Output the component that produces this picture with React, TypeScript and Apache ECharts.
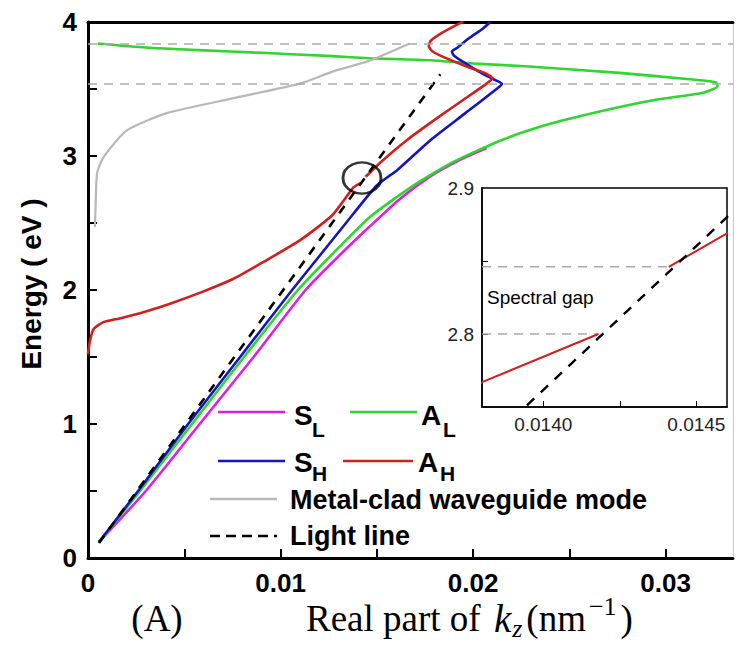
import React, { useEffect, useRef } from "react";
import * as echarts from "echarts";

// ---- data (k in nm^-1, E in eV) ----
const xMin = 0;
const xMax = 0.0335;
const yMin = 0;
const yMax = 4;

const lightLine = [
  [0.00057, 0.112],
  [0.0183, 3.61],
];

const sL = [
  [0.00057, 0.12], [0.003, 0.5], [0.0058, 1.0], [0.0086, 1.5], [0.0113, 2.0],
  [0.013, 2.25], [0.0146, 2.47], [0.0162, 2.68], [0.0178, 2.85], [0.0193, 2.97], [0.0207, 3.06],
];

const aL = [
  [0.00057, 0.12], [0.0027, 0.5], [0.0054, 1.0], [0.0081, 1.5], [0.0109, 2.0],
  [0.0127, 2.27], [0.0146, 2.54], [0.0168, 2.77], [0.0189, 2.95], [0.0215, 3.12],
  [0.024, 3.24], [0.0268, 3.34], [0.0295, 3.42], [0.0319, 3.47], [0.0327, 3.52],
  [0.0326, 3.55], [0.0311, 3.575], [0.0276, 3.62], [0.0227, 3.67], [0.02, 3.69],
  [0.0178, 3.715], [0.0146, 3.73], [0.0127, 3.745], [0.009, 3.77], [0.0058, 3.79],
  [0.003, 3.81], [0.0005, 3.84],
];

const sH = [
  [0.00057, 0.12], [0.0026, 0.5], [0.0052, 1.0], [0.0079, 1.5], [0.0106, 2.0],
  [0.012, 2.25], [0.0134, 2.5], [0.015, 2.78], [0.0161, 2.9], [0.0178, 3.12],
  [0.0196, 3.32], [0.0213, 3.51], [0.0215, 3.54], [0.0211, 3.57], [0.0203, 3.63],
  [0.0195, 3.7], [0.019, 3.75], [0.0189, 3.78], [0.0192, 3.81], [0.0198, 3.88],
  [0.0205, 3.95], [0.0209, 4.0],
];

const aH = [
  [0.0, 1.52], [0.0001, 1.62], [0.0003, 1.71], [0.0008, 1.76], [0.0017, 1.79],
  [0.003, 1.84], [0.0043, 1.9], [0.006, 1.99], [0.0075, 2.08], [0.009, 2.2],
  [0.011, 2.37], [0.0127, 2.56], [0.0138, 2.767], [0.01418, 2.8], ["-", "-"],
  [0.01441, 2.846], [0.0146, 2.869], [0.01517, 2.95], [0.01657, 3.12], [0.018, 3.27],
  [0.0195, 3.42], [0.0207, 3.54], [0.021, 3.58], [0.0206, 3.62], [0.0198, 3.66],
  [0.0186, 3.73], [0.0179, 3.78], [0.0177, 3.82], [0.0178, 3.86], [0.0184, 3.92],
  [0.0193, 3.99], [0.0195, 4.0],
];

const metalClad = [
  [0.00036, 2.47], [0.0004, 2.65], [0.00047, 2.87], [0.0008, 2.99], [0.002, 3.19],
  [0.0041, 3.32], [0.0075, 3.43], [0.011, 3.54], [0.0127, 3.63], [0.0146, 3.71], [0.0167, 3.84],
];

const bandEdges = [3.843, 3.537];
const gapUpper = [[0.0138, 2.846], [0.01441, 2.846]];
const gapLower = [[0.0138, 2.8], [0.01418, 2.8]];
const circlePos = [[0.01423, 2.836]];

const insetXMin = 0.0138;
const insetXMax = 0.0146;
const insetYMin = 2.75;
const insetYMax = 2.9;
const insetXLabels = [0.014, 0.0145];
const insetXTicks = [0.014, 0.01425, 0.0145];
const insetYLabels = [2.8, 2.9];
const insetYTicks = [2.8, 2.85];

const C = {
  sL: "#e01ee0",
  aL: "#2ed62e",
  sH: "#1414c4",
  aH: "#d21e1e",
  metal: "#b8b8b8",
  dash: "#aaaaaa",
};

const SANS = "'Liberation Sans', Arial, sans-serif";
const SERIF = "'Liberation Serif', 'Times New Roman', serif";

function measure(text: string, font: string): number {
  const c = document.createElement("canvas").getContext("2d");
  if (!c) return text.length * 10;
  c.font = font;
  return c.measureText(text).width;
}

export default function App() {
  const ref = useRef<HTMLDivElement>(null);
  useEffect(() => {
    if (!ref.current) return;
    const chart = echarts.init(ref.current, null, { renderer: "svg" });

    const line = (name: string, data: any[], color: string, extra: any = {}) => ({
      name,
      type: "line",
      xAxisIndex: 0,
      yAxisIndex: 0,
      data,
      symbol: "none",
      showSymbol: false,
      smooth: 0.2,
      lineStyle: { color, width: 2.6 },
      z: 3,
      ...extra,
    });

    const FS = 37;
    const FSS = 26;
    const fMain = `${FS}px ${SERIF}`;
    const fIt = `italic ${FS + 2}px ${SERIF}`;
    const fSubIt = `italic ${FSS}px ${SERIF}`;
    const fSmall = `${FSS}px ${SERIF}`;
    const x0 = 306;
    const ty = 618;
    const w1 = measure("Real part of ", fMain);
    const wk = measure("k", fIt);
    const wz = measure("z", fSubIt);
    const wnm = measure("(nm", fMain);
    const wsup = measure("\u22121", fSmall);
    const kx = x0 + w1 + 4;
    const zx = kx + wk + 1;
    const nmx = zx + wz + 4;
    const supx = nmx + wnm + 3;
    const px = supx + wsup + 4;

    const txt = (text: string, x: number, y: number, font: string, align = "left", extra: any = {}) => ({
      type: "text",
      x,
      y,
      style: {
        text,
        font,
        fill: "#000",
        align,
        textAlign: align,
        verticalAlign: "middle",
        textVerticalAlign: "middle",
      },
      ...extra,
    });

    const legLine = (x1: number, y: number, x2: number, color: string, dash?: number[]) => ({
      type: "line",
      shape: { x1, y1: y, x2, y2: y },
      style: { stroke: color, lineWidth: 2.6, lineDash: dash },
    });

    const fLeg = `bold 28px ${SANS}`;
    const fSub = `bold 21px ${SANS}`;
    const fLeg2 = `bold 27px ${SANS}`;

    const option: any = {
      animation: false,
      backgroundColor: "#fff",
      grid: [
        { left: 88, top: 22, right: 5, bottom: 92, outerBoundsMode: "none" },
        {
          left: 482, top: 188, width: 245, height: 219, show: true,
          borderColor: "#000", borderWidth: 1.5, backgroundColor: "#fff", z: 5,
          outerBoundsMode: "none",
        },
      ],
      xAxis: [
        {
          type: "value", gridIndex: 0, min: xMin, max: xMax, interval: 0.005, position: "bottom",
          axisLine: { onZero: false, lineStyle: { color: "#000", width: 3 } },
          axisTick: { inside: true, length: 9, lineStyle: { color: "#000", width: 2 } },
          axisLabel: {
            showMaxLabel: false,
            color: "#000", fontSize: 26, fontWeight: "bold", fontFamily: SANS, margin: 12,
            formatter: (v: number) => {
              const r = v / 0.01;
              if (Math.abs(r - Math.round(r)) > 1e-6) return "";
              return v === 0 ? "0" : v.toFixed(2);
            },
          },
          splitLine: { show: false },
        },
        {
          type: "value", gridIndex: 0, min: xMin, max: xMax, position: "top",
          axisLine: { onZero: false, lineStyle: { color: "#000", width: 3 } },
          axisTick: { show: false }, axisLabel: { show: false }, splitLine: { show: false },
        },
        {
          type: "value", gridIndex: 1, min: insetXMin, max: insetXMax, position: "bottom",
          axisLine: { onZero: false, lineStyle: { color: "#000", width: 1.5 } },
          axisTick: { inside: true, length: 6, customValues: insetXTicks, lineStyle: { color: "#000" } },
          axisLabel: {
            customValues: insetXLabels, color: "#222", fontSize: 19, fontFamily: SANS, margin: 8,
            formatter: (v: number) => v.toFixed(4),
          },
          splitLine: { show: false },
          z: 6,
        },
      ],
      yAxis: [
        {
          type: "value", gridIndex: 0, min: yMin, max: yMax, interval: 0.5, position: "left",
          axisLine: { onZero: false, lineStyle: { color: "#000", width: 3 } },
          axisTick: { inside: true, length: 9, lineStyle: { color: "#000", width: 2 } },
          axisLabel: {
            color: "#000", fontSize: 26, fontWeight: "bold", fontFamily: SANS, margin: 11,
            formatter: (v: number) => (Math.abs(v - Math.round(v)) < 1e-6 ? String(Math.round(v)) : ""),
          },
          splitLine: { show: false },
        },
        {
          type: "value", gridIndex: 0, min: yMin, max: yMax, position: "right",
          axisLine: { onZero: false, lineStyle: { color: "#c8c8c8", width: 1 } },
          axisTick: { show: false }, axisLabel: { show: false }, splitLine: { show: false },
        },
        {
          type: "value", gridIndex: 1, min: insetYMin, max: insetYMax, position: "left",
          axisLine: { onZero: false, lineStyle: { color: "#000", width: 1.5 } },
          axisTick: { inside: true, length: 6, customValues: insetYTicks, lineStyle: { color: "#000" } },
          axisLabel: {
            customValues: insetYLabels, color: "#222", fontSize: 19, fontFamily: SANS, margin: 8,
            formatter: (v: number) => v.toFixed(1),
          },
          splitLine: { show: false },
          z: 6,
        },
      ],
      series: [
        {
          name: "edges", type: "line", xAxisIndex: 0, yAxisIndex: 0, data: [],
          markLine: {
            silent: true, symbol: ["none", "none"], label: { show: false },
            lineStyle: { color: C.dash, type: [9, 7], width: 1.6 },
            data: bandEdges.map((e) => ({ yAxis: e })),
          },
        },
        line("S_L", sL, C.sL),
        line("A_L", aL, C.aL),
        line("S_H", sH, C.sH),
        line("A_H", aH, C.aH),
        line("metal", metalClad, C.metal, { lineStyle: { color: C.metal, width: 2.2 } }),
        line("light", lightLine, "#000", { smooth: false, lineStyle: { color: "#000", width: 2.6, type: [9, 8] } }),
        {
          name: "circle", type: "scatter", xAxisIndex: 0, yAxisIndex: 0, data: circlePos,
          symbol: "circle", symbolSize: [38, 31], z: 6,
          itemStyle: { color: "rgba(0,0,0,0)", borderColor: "#000", borderWidth: 2.6 },
        },
        // inset
        {
          name: "gapU", type: "line", xAxisIndex: 2, yAxisIndex: 2, data: gapUpper, symbol: "none", z: 7,
          lineStyle: { color: C.dash, type: [9, 7], width: 1.5 },
        },
        {
          name: "gapL", type: "line", xAxisIndex: 2, yAxisIndex: 2, data: gapLower, symbol: "none", z: 7,
          lineStyle: { color: C.dash, type: [9, 7], width: 1.5 },
        },
        {
          name: "insetAH", type: "line", xAxisIndex: 2, yAxisIndex: 2, data: aH, symbol: "none", z: 7,
          clip: true, lineStyle: { color: C.aH, width: 2 },
        },
        {
          name: "insetLight", type: "line", xAxisIndex: 2, yAxisIndex: 2, data: lightLine, symbol: "none", z: 7,
          clip: true, lineStyle: { color: "#000", width: 2.4, type: [10, 9] },
        },
      ],
      graphic: [
        txt("Energy ( eV )", 31, 284, `bold 28px ${SANS}`, "center", { rotation: Math.PI / 2 }),
        txt("(A)", 157, ty, fMain, "center"),
        txt("Real part of ", x0, ty, fMain),
        txt("k", kx, ty, fIt),
        txt("z", zx, ty + 10, fSubIt),
        txt("(nm", nmx, ty, fMain),
        txt("\u22121", supx, ty - 12, fSmall),
        txt(")", px, ty, fMain),
        txt("Spectral gap", 487, 297, `19px ${SANS}`, "left", { z: 100 }),
        // legend
        legLine(218, 412, 285, C.sL),
        txt("S", 294, 415, fLeg),
        txt("L", 312, 429, fSub),
        legLine(350, 412, 417, C.aL),
        txt("A", 421, 415, fLeg),
        txt("L", 443, 429, fSub),
        legLine(218, 461, 285, C.sH),
        txt("S", 294, 462, fLeg),
        txt("H", 312, 473, fSub),
        legLine(343, 461, 413, C.aH),
        txt("A", 418, 462, fLeg),
        txt("H", 440, 473, fSub),
        legLine(210, 499, 277, C.metal),
        txt("Metal-clad waveguide mode", 290, 500, fLeg2),
        legLine(210, 536, 277, "#000", [10, 6]),
        txt("Light line", 290, 536, fLeg2),
      ],
    };

    chart.setOption(option);
    return () => chart.dispose();
  }, []);

  return (
    <div
      ref={ref}
      style={{ position: "fixed", left: 0, top: 0, width: 738, height: 650, background: "#fff" }}
    />
  );
}
